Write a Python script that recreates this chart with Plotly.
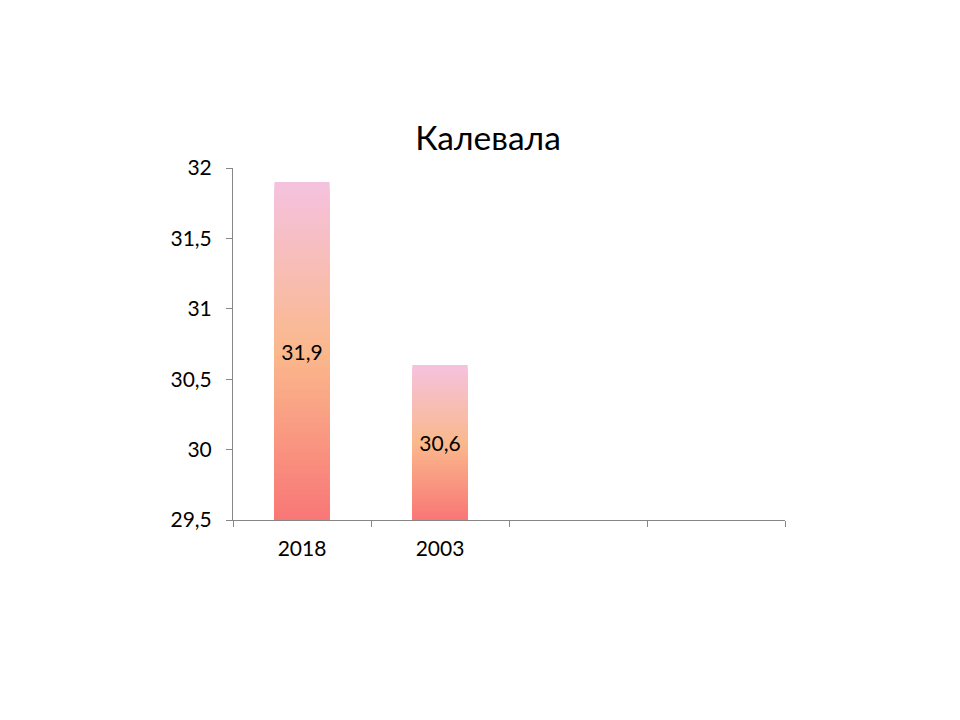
import plotly.graph_objects as go

# chart data
categories = ["2018", "2003", " ", "  "]
values = [31.9, 30.6, None, None]
y_min = 29.5
y_max = 32
title_text = "Калевала"

# gradient stops (bottom -> top of each bar)
grad_stops = [(0.0, (248, 118, 118)), (0.5, (250, 184, 140)), (1.0, (245, 194, 222))]


def grad_color(f):
    """Colour at fraction f of a bar's height."""
    for (f0, c0), (f1, c1) in zip(grad_stops, grad_stops[1:]):
        if f <= f1:
            t = (f - f0) / (f1 - f0)
            rgb = [round(a + (b - a) * t) for a, b in zip(c0, c1)]
            return "rgb({},{},{})".format(*rgb)
    return "rgb({},{},{})".format(*grad_stops[-1][1])


fig = go.Figure()

# fake the gradient fill with overlaid bars, tallest first
steps = 80
for k in range(steps):
    frac = 1 - k / steps
    heights = [None if v is None else (v - y_min) * frac for v in values]
    fig.add_trace(go.Bar(x=categories, y=heights, base=y_min, width=0.4,
                         marker=dict(color=grad_color(frac), line=dict(width=0)),
                         hoverinfo="skip", showlegend=False))

# labels in the middle of each bar
labels = ["" if v is None else str(v).replace(".", ",") for v in values]
fig.add_trace(go.Bar(x=categories, y=[None if v is None else v - y_min for v in values],
                     base=y_min, width=0.4, text=labels, textposition="inside",
                     insidetextanchor="middle", textangle=0,
                     textfont=dict(color="black", size=21, family="Lato"),
                     marker=dict(color="rgba(0,0,0,0)", line=dict(width=0)),
                     showlegend=False))

fig.update_layout(
    width=960, height=720,
    barmode="overlay",
    separators=", ",
    paper_bgcolor="white", plot_bgcolor="white",
    margin=dict(l=225, r=183, t=160, b=208),
    font=dict(family="Lato", size=21, color="black"),
    title=dict(text=title_text, x=480 / 960, xanchor="center",
               y=1 - 130 / 720, yanchor="middle", yref="container",
               font=dict(size=33.5, family="Lato", color="black")),
)
fig.update_yaxes(range=[y_min, y_max], dtick=0.5, tickformat=".1~f",
                 showgrid=False, zeroline=False, showline=True, linecolor="#868686",
                 linewidth=1, ticks="outside", ticklen=6, tickcolor="#868686",
                 ticklabelstandoff=10)
fig.update_xaxes(type="category", categoryorder="array", categoryarray=categories,
                 showgrid=False, showline=True, linecolor="#868686", linewidth=1,
                 ticks="outside", tickson="boundaries", ticklen=6, tickcolor="#868686",
                 ticklabelstandoff=10)

fig.write_html("out.html")
